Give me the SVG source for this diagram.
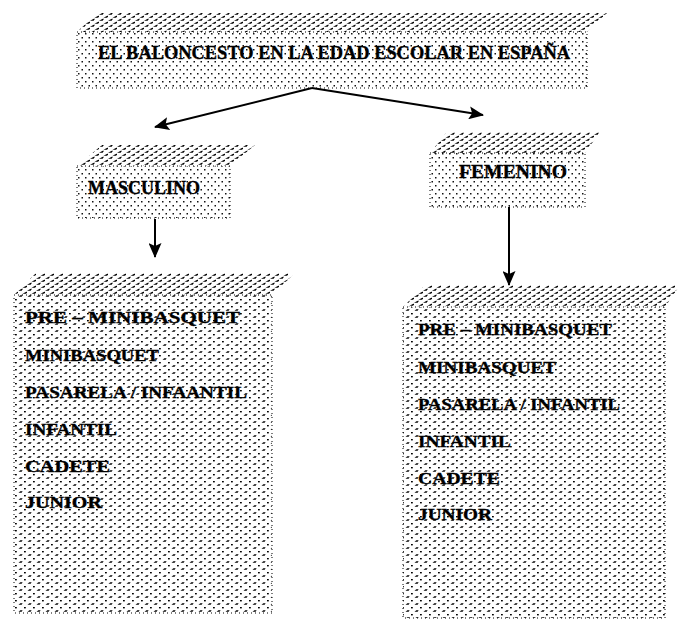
<svg xmlns="http://www.w3.org/2000/svg" width="682" height="621" viewBox="0 0 682 621">
<defs>
<pattern id="topPat" patternUnits="userSpaceOnUse" width="9" height="6">
<polygon points="0,2.8 3.6,2.8 5,0.8 3.8,0.8" fill="#000"/>
<polygon points="4.5,5.8 8.1,5.8 9.5,3.8 8.3,3.8" fill="#000"/>
</pattern>
<pattern id="dotPat" patternUnits="userSpaceOnUse" width="7" height="8">
<rect x="1" y="1" width="1.5" height="1.5" fill="#111"/>
<rect x="4.5" y="5" width="1.5" height="1.5" fill="#111"/>
</pattern>
<pattern id="listPat" patternUnits="userSpaceOnUse" width="9" height="7">
<polygon points="0.5,2.8 3.6,2.8 4.6,1.3 2.4,1.3" fill="#000"/>
<rect x="6" y="5" width="1.8" height="1.4" fill="#000"/>
</pattern>
<marker id="arrow" markerUnits="userSpaceOnUse" markerWidth="15" markerHeight="13" refX="14" refY="6.5" orient="auto">
<path d="M0,0 L15,6.5 L0,13 L3,6.5 z" fill="#000"/>
</marker>
</defs>
<style>
.top { fill: url(#topPat); }
.front { fill: url(#dotPat); stroke: #000; stroke-width: 1; stroke-dasharray: 1 3; }
.lfront { fill: url(#listPat); stroke: #000; stroke-width: 1; stroke-dasharray: 1 3; }
.t { font-family: "Liberation Serif", "Times New Roman", serif; font-weight: bold; fill: #000; stroke: #000; stroke-width: 0.35; }
.conn line { stroke: #000; stroke-width: 2; marker-end: url(#arrow); }
</style>

<g id="title">
<polygon class="top" points="77,32 97,13 607,13 587,32"/>
<rect class="front" x="77" y="32" width="510" height="56"/>
<text class="t" x="98" y="59" font-size="19" textLength="472" lengthAdjust="spacingAndGlyphs">EL BALONCESTO EN LA EDAD ESCOLAR EN ESPAÑA</text>
</g>

<g id="masculino">
<polygon class="top" points="77,166 102,145 255,145 230,166"/>
<rect class="front" x="77" y="166" width="153" height="52"/>
<text class="t" x="88" y="194" font-size="18" textLength="112" lengthAdjust="spacingAndGlyphs">MASCULINO</text>
</g>

<g id="femenino">
<polygon class="top" points="430,153 447,132 600,132 585,153"/>
<rect class="front" x="430" y="153" width="155" height="54"/>
<text class="t" x="459" y="178" font-size="18" textLength="108" lengthAdjust="spacingAndGlyphs">FEMENINO</text>
</g>

<g id="lista-masculino">
<polygon class="top" points="14,295 36,273 295,273 272,295"/>
<rect class="lfront" x="14" y="295" width="258" height="318"/>
<text class="t" x="25" y="323" font-size="17" textLength="215" lengthAdjust="spacingAndGlyphs">PRE – MINIBASQUET</text>
<text class="t" x="25" y="361" font-size="17" textLength="134" lengthAdjust="spacingAndGlyphs">MINIBASQUET</text>
<text class="t" x="25" y="398" font-size="17" textLength="222" lengthAdjust="spacingAndGlyphs">PASARELA / INFAANTIL</text>
<text class="t" x="25" y="435" font-size="17" textLength="92" lengthAdjust="spacingAndGlyphs">INFANTIL</text>
<text class="t" x="25" y="472" font-size="17" textLength="85" lengthAdjust="spacingAndGlyphs">CADETE</text>
<text class="t" x="25" y="508" font-size="17" textLength="77" lengthAdjust="spacingAndGlyphs">JUNIOR</text>
</g>

<g id="lista-femenino">
<polygon class="top" points="403,307 425,285 680,285 665,307"/>
<rect class="lfront" x="403" y="307" width="262" height="311"/>
<text class="t" x="418" y="335" font-size="17" textLength="194" lengthAdjust="spacingAndGlyphs">PRE – MINIBASQUET</text>
<text class="t" x="418" y="373" font-size="17" textLength="138" lengthAdjust="spacingAndGlyphs">MINIBASQUET</text>
<text class="t" x="418" y="410" font-size="17" textLength="202" lengthAdjust="spacingAndGlyphs">PASARELA / INFANTIL</text>
<text class="t" x="418" y="447" font-size="17" textLength="93" lengthAdjust="spacingAndGlyphs">INFANTIL</text>
<text class="t" x="418" y="484" font-size="17" textLength="82" lengthAdjust="spacingAndGlyphs">CADETE</text>
<text class="t" x="418" y="520" font-size="17" textLength="74" lengthAdjust="spacingAndGlyphs">JUNIOR</text>
</g>

<g id="connectors" class="conn">
<line x1="312" y1="88" x2="155" y2="127"/>
<line x1="312" y1="88" x2="483" y2="115"/>
<line x1="155" y1="219" x2="155" y2="257"/>
<line x1="509" y1="207" x2="509" y2="285"/>
</g>
</svg>
